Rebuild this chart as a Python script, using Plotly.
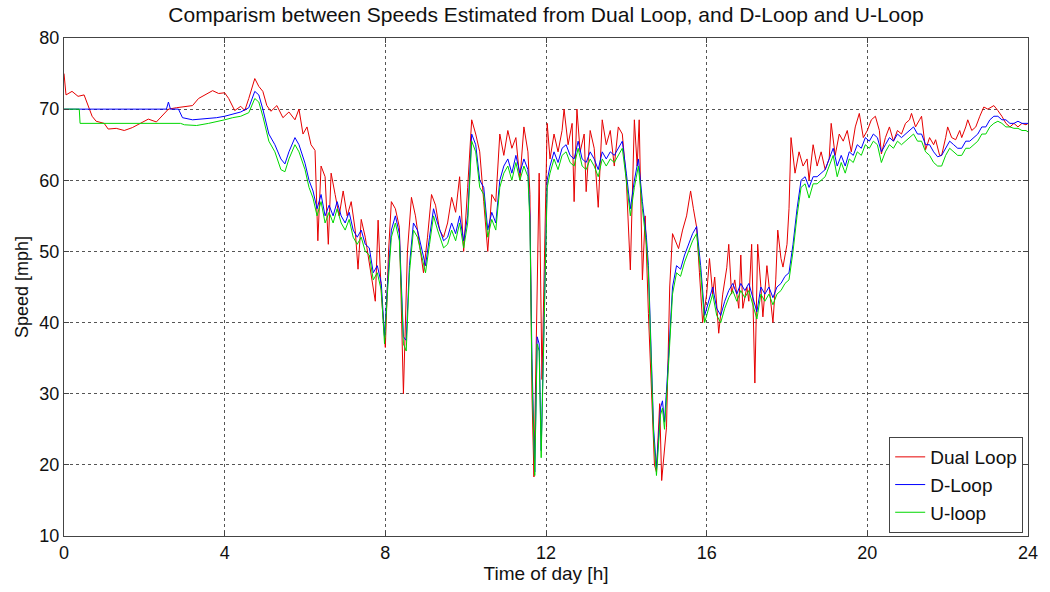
import plotly.graph_objects as go

# ---------------- data ----------------
dual_t = [0.0,0.05,0.2,0.35,0.5,0.6,0.7,0.8,1.0,1.1,1.3,1.5,1.7,1.9,2.1,2.3,2.5,2.6,2.8,3.0,
          3.2,3.35,3.5,3.7,3.85,4.0,4.1,4.25,4.4,4.5,4.6,4.75,4.85,4.95,5.05,5.15,5.3,5.45,5.6,5.75,
          5.85,5.95,6.05,6.15,6.25,6.32,6.4,6.5,6.58,6.65,6.75,6.85,6.95,7.05,7.15,7.25,7.32,7.4,7.5,7.6,
          7.7,7.75,7.82,7.9,8.0,8.08,8.15,8.25,8.35,8.45,8.55,8.65,8.75,8.85,8.95,9.05,9.15,9.25,9.35,9.45,
          9.55,9.65,9.75,9.85,9.95,10.05,10.15,10.25,10.35,10.45,10.55,10.65,10.75,10.85,10.95,11.05,11.15,11.25,11.35,11.45,
          11.55,11.6,11.65,11.7,11.77,11.83,11.9,11.97,12.03,12.1,12.2,12.3,12.4,12.45,12.55,12.65,12.7,12.77,12.85,12.95,
          13.0,13.1,13.2,13.3,13.4,13.5,13.6,13.7,13.8,13.9,14.0,14.1,14.15,14.2,14.27,14.32,14.4,14.47,14.55,14.62,
          14.7,14.75,14.83,14.88,14.95,15.0,15.08,15.15,15.3,15.4,15.5,15.6,15.67,15.75,15.82,15.9,16.0,16.07,16.15,16.2,
          16.3,16.4,16.5,16.55,16.62,16.7,16.8,16.85,16.9,17.0,17.05,17.12,17.2,17.27,17.35,17.4,17.5,17.58,17.65,17.72,
          17.77,17.85,17.9,18.0,18.05,18.1,18.2,18.3,18.4,18.5,18.55,18.65,18.75,18.85,18.95,19.05,19.1,19.2,19.3,19.4,
          19.5,19.6,19.7,19.8,19.9,20.0,20.1,20.2,20.3,20.35,20.45,20.55,20.65,20.75,20.85,20.95,21.05,21.1,21.2,21.3,
          21.35,21.45,21.55,21.65,21.7,21.8,21.85,21.95,22.0,22.1,22.2,22.3,22.35,22.45,22.5,22.6,22.7,22.8,22.9,23.0,
          23.15,23.25,23.35,23.45,23.55,23.65,23.75,23.85,23.95,24.0]
dual_v = [75,72,72.5,71.8,72,70.5,69,68.3,68,67.2,67.3,67,67.4,68,68.6,68.2,69.5,70,70.2,70.3,
          70.5,71.5,72,72.6,72.2,72.3,71.5,69.8,70.4,69.8,71.5,74.3,73.2,72.5,70.5,69.7,70.5,68.8,69.6,68.5,
          70,66.5,67.5,65,64.2,51.5,62,60.5,51,61,58,55,58.5,55,57,53,47.5,54.5,52,48.5,
          45,43,54.4,44,36.5,50,57,56,53.4,30,50,57.6,55,51,47,52,58,56.5,53,52,
          54,57.6,55.5,60.5,50,59,68.5,66.5,64,57,50,58,57,66.5,63.5,67,64.5,66,60,67.5,
          64,58,30,18.3,40,61,32,50,68,63,66.5,64,67,70,65,68,57,70,64,66.5,
          58.4,67,64.5,56.2,68.5,65,67,62,67.5,66.5,60,47.4,57,68.5,62,68.5,46,55,41.3,32,
          20,19,28.6,17.8,22,25.3,45,52.5,50.4,53,55,58.5,56,53.4,47,40,44,49,44,46.4,
          38.5,44,47.7,51,44,46,42,49.5,42,45,43,51,31.5,51,45,40.8,48,44,40,46,
          53,49,47.8,51,56,66,61,64,62,63,60,65,62,64,61.5,63,68,63.5,66.5,65.5,
          67,64,67.5,69.4,66,67,68.5,69,67,63.7,66,67.5,65.5,67,66.5,68,68.5,69.4,67.5,68.5,
          69,64.3,66,65,65.7,63.5,63.5,66,67.5,66,65.7,67,66,67.5,68.5,67,67.5,69,70.3,70,
          70.5,69.8,69,68,67.5,68,67.5,68,67.8,68]

dloop_t = [0.0,2.55,2.6,2.65,2.85,2.95,3.2,3.5,3.8,4.0,4.2,4.4,4.6,4.75,4.85,4.95,5.1,5.25,5.4,5.5,
           5.6,5.75,5.85,6.0,6.1,6.2,6.3,6.4,6.5,6.6,6.7,6.8,6.9,7.0,7.1,7.2,7.3,7.4,7.5,7.6,
           7.7,7.8,7.9,7.98,8.05,8.15,8.25,8.35,8.45,8.52,8.6,8.7,8.8,8.9,9.0,9.1,9.2,9.3,9.45,9.55,
           9.65,9.75,9.85,9.95,10.05,10.15,10.25,10.35,10.45,10.55,10.65,10.75,10.85,10.95,11.05,11.15,11.25,11.35,11.45,11.55,
           11.6,11.65,11.72,11.78,11.83,11.88,11.95,12.03,12.1,12.2,12.3,12.4,12.5,12.6,12.7,12.8,12.9,13.0,13.1,13.2,
           13.3,13.4,13.5,13.6,13.7,13.8,13.9,14.0,14.1,14.2,14.3,14.4,14.5,14.55,14.6,14.68,14.75,14.85,14.9,14.95,
           15.05,15.15,15.25,15.35,15.45,15.55,15.65,15.75,15.85,15.95,16.05,16.15,16.25,16.35,16.45,16.55,16.65,16.75,16.85,16.95,
           17.05,17.15,17.25,17.35,17.45,17.55,17.65,17.75,17.85,17.95,18.05,18.15,18.25,18.35,18.45,18.55,18.65,18.75,18.85,18.95,
           19.05,19.15,19.25,19.35,19.45,19.55,19.65,19.75,19.85,19.95,20.05,20.15,20.25,20.35,20.45,20.55,20.65,20.75,20.85,20.95,
           21.05,21.15,21.25,21.35,21.45,21.55,21.65,21.75,21.85,21.95,22.05,22.15,22.25,22.35,22.45,22.55,22.65,22.75,22.85,22.95,
           23.05,23.15,23.25,23.35,23.45,23.55,23.65,23.75,23.85,23.95,24.0]
dloop_v = [70,70,71,70,70,68.8,68.5,68.6,68.8,69,69.3,69.6,70.2,72.5,72,70,66.5,65,63,62.3,
           64,66,65,62.4,60,58.5,56,58,55,56.5,55,57,55,54,55.5,53,52,53,51,50.5,
           47,48,45.5,38,45,53,55,52.5,38,37.5,48,54,53,50.5,48,52,56,54,51.5,52,
           54,52.5,55,51.5,55,66.5,65,60,59,53,55.5,54,60,62,63,61,63.5,61,63,61.5,
           55,35,19,38,37,22,40,60,62,64,62.5,64.5,65,63.5,63,65.5,63,62.5,64,63,
           61.5,64,63,64,63.5,64.5,65.5,61,56,60,63,57,52,48,40,25,19.5,28,29,26,
           35,45,48,47.5,49.5,51,52.5,53.5,48,41,43,45,42,41,43,44.5,45.5,44,45.5,44.5,
           45.5,43.5,41.5,45,44,45,43.5,45,45.5,46.5,47,51,56,60,60.5,59,60.5,60.5,61,61.5,
           63,64.5,62,63.5,62,64,63.5,65,64.5,66,65.5,66.5,66,64,65,66,65.5,66.5,66,66.5,
           67,67.5,66.5,66.5,65,65,64,63.3,63.5,64.5,65.5,65,64.5,64.5,65.5,65.5,66,66.5,67.5,67.5,
           68.5,69,69,68.5,68.5,68,68,68.3,68,68,68]

uloop_t = [0.0,0.38,0.4,2.9,3.0,3.3,3.6,3.9,4.0,4.2,4.4,4.6,4.75,4.85,4.95,5.1,5.25,5.4,5.5,5.6,
           5.75,5.85,6.0,6.1,6.2,6.3,6.4,6.5,6.6,6.7,6.8,6.9,7.0,7.1,7.2,7.3,7.4,7.5,7.6,7.7,
           7.8,7.9,7.98,8.05,8.15,8.25,8.35,8.45,8.52,8.6,8.7,8.8,8.9,9.0,9.1,9.2,9.3,9.45,9.55,9.65,
           9.75,9.85,9.95,10.05,10.15,10.25,10.35,10.45,10.55,10.65,10.75,10.85,10.95,11.05,11.15,11.25,11.35,11.45,11.55,11.6,
           11.65,11.72,11.78,11.83,11.88,11.95,12.03,12.1,12.2,12.3,12.4,12.5,12.6,12.7,12.8,12.9,13.0,13.1,13.2,13.3,
           13.4,13.5,13.6,13.7,13.8,13.9,14.0,14.1,14.2,14.3,14.4,14.5,14.55,14.6,14.68,14.75,14.85,14.9,14.95,15.05,
           15.15,15.25,15.35,15.45,15.55,15.65,15.75,15.85,15.95,16.05,16.15,16.25,16.35,16.45,16.55,16.65,16.75,16.85,16.95,17.05,
           17.15,17.25,17.35,17.45,17.55,17.65,17.75,17.85,17.95,18.05,18.15,18.25,18.35,18.45,18.55,18.65,18.75,18.85,18.95,19.05,
           19.15,19.25,19.35,19.45,19.55,19.65,19.75,19.85,19.95,20.05,20.15,20.25,20.35,20.45,20.55,20.65,20.75,20.85,20.95,21.05,
           21.15,21.25,21.35,21.45,21.55,21.65,21.75,21.85,21.95,22.05,22.15,22.25,22.35,22.45,22.55,22.65,22.75,22.85,22.95,23.05,
           23.15,23.25,23.35,23.45,23.55,23.65,23.75,23.85,23.95,24.0]
uloop_v = [70,70,68,68,67.8,67.7,68,68.3,68.5,68.8,69,69.5,71.5,71,69,65.5,64,61.5,61.2,63,
           65,64,61.5,59,57.5,55,57,54,55.5,54,56,54,53,54.5,52,51,52,50,49.5,46,
           47,44.5,37,44,52,54,51.5,37,36,47,53,52,49.5,47,51,55,53,50.5,51,53,
           51.5,54,50.5,54,65.5,64,59,58,52,54.5,53,59,61,62,60,62.5,60,62,60.5,54,
           33,18.5,37,36,21,39,59,61,63,61.5,63.5,64,62.5,62,64.5,62,61.5,63,62,60.5,
           63,62,63,62.5,63.5,64.5,60,55,59,62,56,51,47,39,24,18.5,27,28,25,34,
           44,47,46.5,48.5,50,51.5,52.5,47,40,42,44,41,40,42,43.5,44.5,43,44.5,43.5,44.5,
           42.5,40.5,44,43,44,42.5,44,44.5,45.5,46,50,55,59,59.5,57.5,59.5,59.5,60,60.5,62,
           63.5,60.5,62.5,61,63,62.5,64,63.5,65,64.5,65.5,65,62.5,64,65,64.5,65.5,65,65.5,66,
           66.5,65.5,65.5,64,63.5,62.5,62,62,63.5,64.5,64,63.5,63.5,64.5,64.5,65,65.5,66.5,66.5,67.5,
           68,68.3,68,67.5,67.5,67.3,67.3,67,67,66.8]

x_ticks = [0, 4, 8, 12, 16, 20, 24]
y_ticks = [10, 20, 30, 40, 50, 60, 70, 80]

# ---------------- figure ----------------
FONT = "Liberation Sans, Arial, sans-serif"
fig = go.Figure()
fig.add_trace(go.Scatter(x=dual_t, y=dual_v, mode="lines", name="Dual Loop",
                         line=dict(color="rgb(230,0,0)", width=1)))
fig.add_trace(go.Scatter(x=dloop_t, y=dloop_v, mode="lines", name="D-Loop",
                         line=dict(color="rgb(0,0,255)", width=1)))
fig.add_trace(go.Scatter(x=uloop_t, y=uloop_v, mode="lines", name="U-loop",
                         line=dict(color="rgb(0,215,0)", width=1)))

axis_common = dict(showline=True, linecolor="#444", linewidth=1, mirror="ticks",
                   ticks="inside", ticklen=5, tickcolor="#444",
                   showgrid=True, gridcolor="#555", griddash="dot", gridwidth=1,
                   zeroline=False, tickfont=dict(family=FONT, size=18, color="#111"))

fig.update_layout(
    width=1050, height=592,
    margin=dict(l=64, r=17, t=38, b=56),
    paper_bgcolor="white", plot_bgcolor="white",
    font=dict(family=FONT, color="#111"),
    title=dict(text="Comparism between Speeds Estimated from Dual Loop, and D-Loop and U-Loop",
               x=0.5, xref="paper", xanchor="center",
               y=1 - 15 / 592, yref="container", yanchor="middle",
               font=dict(family=FONT, size=21, color="#111")),
    xaxis=dict(range=[0, 24], tickvals=x_ticks,
               title=dict(text="Time of day [h]", standoff=2,
                          font=dict(family=FONT, size=19, color="#111")),
               **axis_common),
    yaxis=dict(range=[10, 80], tickvals=y_ticks,
               title=dict(text="Speed [mph]", standoff=6,
                          font=dict(family=FONT, size=18, color="#111")),
               **axis_common),
    legend=dict(x=0.995, y=0.006, xanchor="right", yanchor="bottom",
                bgcolor="white", bordercolor="#444", borderwidth=1,
                font=dict(family=FONT, size=19, color="#111"),
                tracegroupgap=0, itemwidth=30),
    showlegend=True,
)

# remove the browser's default body margin so the figure sits at the page origin
fig.write_html("out.html",
               config={"displayModeBar": False},
               post_script="document.body.style.margin='0';document.body.style.overflow='hidden';")
